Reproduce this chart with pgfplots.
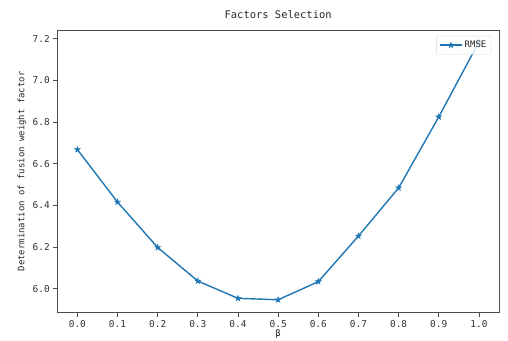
\documentclass[border=0pt]{standalone}
\usepackage{fontspec}
\setmainfont{DejaVu Sans Mono}
\usepackage{pgfplots}
\pgfplotsset{compat=1.18}
\definecolor{c0}{HTML}{1F77B4}
\pgfdeclareplotmark{fstar}{%
  \pgfpathmoveto{\pgfpointpolar{90}{\pgfplotmarksize}}%
  \pgfpathlineto{\pgfpointpolar{126}{0.4\pgfplotmarksize}}%
  \pgfpathlineto{\pgfpointpolar{162}{\pgfplotmarksize}}%
  \pgfpathlineto{\pgfpointpolar{198}{0.4\pgfplotmarksize}}%
  \pgfpathlineto{\pgfpointpolar{234}{\pgfplotmarksize}}%
  \pgfpathlineto{\pgfpointpolar{270}{0.4\pgfplotmarksize}}%
  \pgfpathlineto{\pgfpointpolar{306}{\pgfplotmarksize}}%
  \pgfpathlineto{\pgfpointpolar{342}{0.4\pgfplotmarksize}}%
  \pgfpathlineto{\pgfpointpolar{18}{\pgfplotmarksize}}%
  \pgfpathlineto{\pgfpointpolar{54}{0.4\pgfplotmarksize}}%
  \pgfpathclose
  \pgfusepathqfillstroke}
\begin{document}
\begin{tikzpicture}
\path[use as bounding box] (0,0) rectangle (508bp,341bp);
\begin{axis}[
  at={(57.3bp,28.3bp)}, anchor=south west,
  scale only axis, width=441.7bp, height=282.7bp,
  xmin=-0.05, xmax=1.05, ymin=5.885, ymax=7.242,
  xtick={0,0.1,0.2,0.3,0.4,0.5,0.6,0.7,0.8,0.9,1.0},
  ytick={6.0,6.2,6.4,6.6,6.8,7.0,7.2},
  /pgf/number format/.cd, fixed, fixed zerofill, precision=1, assume math mode=true,
  /pgfplots/.cd,
  tick align=outside, tick pos=left, major tick length=4bp,
  tick style={black!70, line width=0.8bp},
  axis line style={black!70, line width=0.8bp},
  ticklabel style={font=\fontsize{9.5}{10}\selectfont, text=black!80},
  title={Factors Selection},
  title style={at={(0.5,1)}, anchor=south, yshift=2bp, font=\fontsize{10.5}{12}\selectfont, text=black!85},
  ylabel={Determination of fusion weight factor},
  ylabel style={at={(axis description cs:-0.08,0.5)}, anchor=center, font=\fontsize{9}{10}\selectfont, text=black!85},
  xlabel={β},
  xlabel style={at={(axis description cs:0.5,-0.075)}, anchor=center, font=\fontsize{9}{10}\selectfont, text=black!85},
  legend style={at={(0.983,0.979)}, anchor=north east, draw=black!15, rounded corners=2bp,
    fill=white, fill opacity=0.8, text opacity=1, font=\fontsize{9}{10}\selectfont, text=black!85,
    inner sep=3bp},
  legend cell align=left,
  legend image code/.code={\draw[mark repeat=2, mark phase=2, #1] plot coordinates {(0bp,0bp) (11bp,0bp) (22bp,0bp)};},
]
\addplot[color=c0, line width=1.4bp, mark=fstar, mark size=3bp, mark options={line width=0.5bp}]
coordinates {
(0.0,6.668) (0.1,6.416) (0.2,6.198) (0.3,6.037) (0.4,5.954) (0.5,5.947)
(0.6,6.034) (0.7,6.253) (0.8,6.484) (0.9,6.825) (1.0,7.185)
};
\addlegendentry{RMSE}
\end{axis}
\end{tikzpicture}
\end{document}
